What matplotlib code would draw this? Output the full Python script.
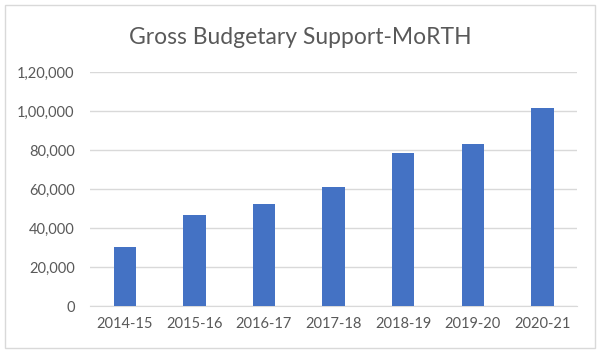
import matplotlib
matplotlib.use("Agg")
import matplotlib.pyplot as plt
from matplotlib.patches import Rectangle
from matplotlib.ticker import FuncFormatter

years = ["2014-15", "2015-16", "2016-17", "2017-18", "2018-19", "2019-20", "2020-21"]
support = [30300, 46900, 52400, 60900, 78300, 83100, 101800]
y_ticks = [0, 20000, 40000, 60000, 80000, 100000, 120000]

BAR = "#4472C4"
TEXT = "#595959"
GRID = "#D9D9D9"

plt.rcParams["font.family"] = ["Lato", "DejaVu Sans"]


def indian(v, _pos=None):
    """Indian digit grouping: 1,20,000."""
    s = str(int(round(v)))
    if len(s) <= 3:
        return s
    head, tail = s[:-3], s[-3:]
    parts = []
    while len(head) > 2:
        parts.insert(0, head[-2:])
        head = head[:-2]
    if head:
        parts.insert(0, head)
    return ",".join(parts + [tail])


fig = plt.figure(figsize=(6.0, 3.53), dpi=100)
fig.patches.append(Rectangle((0.008, 0.014), 0.984, 0.972, transform=fig.transFigure,
                             fill=False, edgecolor=GRID, linewidth=1.0))
ax = fig.add_axes([0.15, 0.133, 0.812, 0.663])

x = range(len(years))
ax.bar(x, support, width=0.32, color=BAR, zorder=3)

ax.set_xlim(-0.5, len(years) - 0.5)
ax.set_ylim(0, 120000)
ax.set_yticks(y_ticks)
ax.yaxis.set_major_formatter(FuncFormatter(indian))
ax.set_xticks(list(x))
ax.set_xticklabels(years)
ax.grid(axis="y", color=GRID, linewidth=1.0, zorder=0)
for sp in ("top", "right", "left"):
    ax.spines[sp].set_visible(False)
ax.spines["bottom"].set_color(GRID)
ax.tick_params(length=0, colors=TEXT, labelsize=10.5)
ax.tick_params(axis="x", pad=8)
ax.tick_params(axis="y", pad=11)

fig.text(0.5, 0.895, "Gross Budgetary Support-MoRTH", ha="center", va="center",
         fontsize=16.5, color=TEXT)

fig.savefig("out.png", dpi=100)
